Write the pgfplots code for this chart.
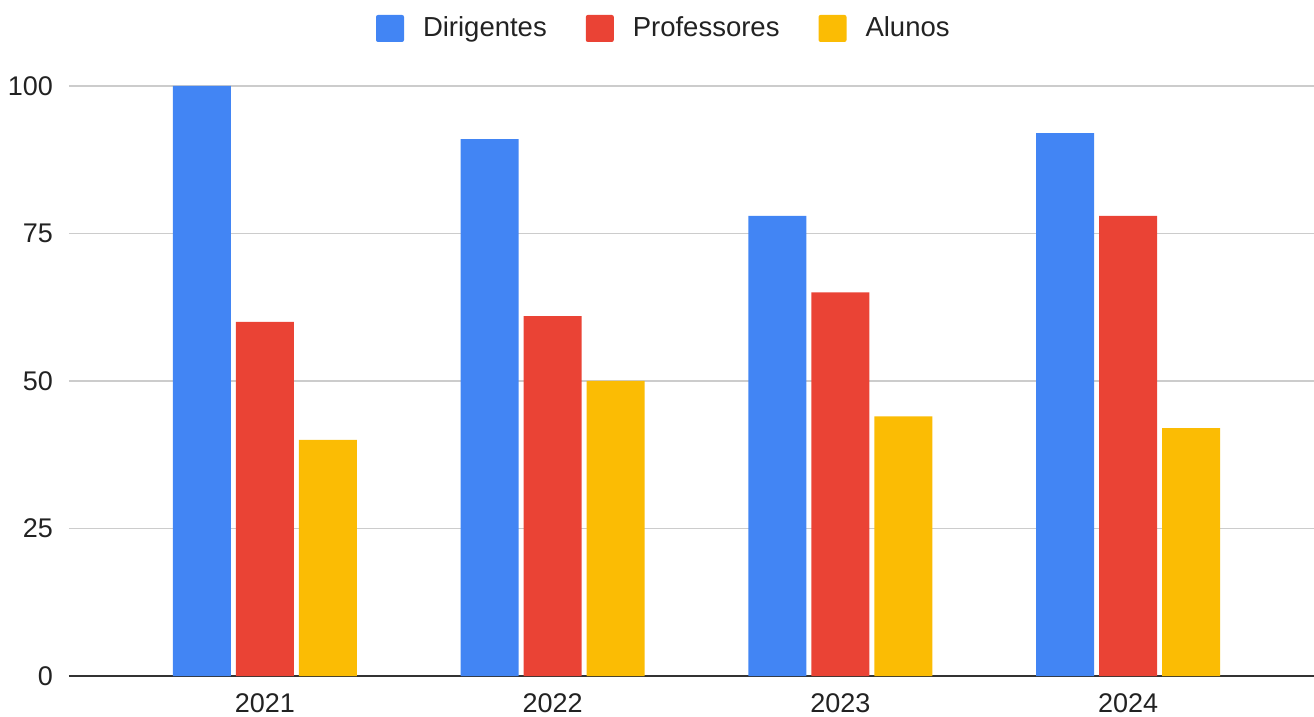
\documentclass[border=0pt]{standalone}
\usepackage{fontspec}
\setmainfont{Liberation Sans}
\usepackage{pgfplots}
\pgfplotsset{compat=1.18}
\definecolor{gblue}{HTML}{4285F4}
\definecolor{gred}{HTML}{EA4335}
\definecolor{gyellow}{HTML}{FBBC04}
\definecolor{gridc}{HTML}{CCCCCC}
\definecolor{axisc}{HTML}{333333}
\definecolor{txt}{HTML}{222222}
\pgfplotsset{sq legend/.style={legend image code/.code={\fill[##1, draw=none, rounded corners=2pt] (0pt,-13.5pt) rectangle (28pt,13.5pt);}}}
\begin{document}
\fontsize{27}{32}\selectfont
\begin{tikzpicture}
\begin{axis}[
 at={(0,0)}, anchor=south west,
 scale only axis, width=1245pt, height=590pt,
 xmin=-0.681, xmax=3.646, ymin=0, ymax=100,
 ybar=5pt, bar width=58pt,
 xtick={0,1,2,3}, xticklabels={2021,2022,2023,2024},
 ytick={0,25,50,75,100},
 major tick length=0pt,
 axis line style={draw=none},
 ymajorgrids, grid style={gridc, line width=1.8pt},
 extra y ticks={0}, extra y tick labels={},
 extra y tick style={grid style={axisc, line width=2.8pt}},
 x tick label style={yshift=-8pt, text=txt},
 y tick label style={xshift=-7pt, text=txt},
 /pgf/number format/assume math mode=true,
 legend columns=3,
 legend style={draw=none, fill=none, at={(0.2466,1.0975)}, anchor=west,
   inner sep=0pt, outer sep=0pt, font=\fontsize{27.5}{32}\selectfont, text=txt,
   nodes={inner sep=0pt},
   /tikz/every odd column/.append style={column sep=19pt},
   /tikz/every even column/.append style={column sep=39pt}},
]
\addplot[fill=gblue, draw=none, sq legend] coordinates {(0,100) (1,91) (2,78) (3,92)};
\addplot[fill=gred, draw=none, sq legend] coordinates {(0,60) (1,61) (2,65) (3,78)};
\addplot[fill=gyellow, draw=none, sq legend] coordinates {(0,40) (1,50) (2,44) (3,42)};
\legend{Dirigentes, Professores, Alunos}
\end{axis}
\pgfresetboundingbox
\useasboundingbox (-69pt,-41pt) rectangle (1245pt,676pt);
\end{tikzpicture}
\end{document}
